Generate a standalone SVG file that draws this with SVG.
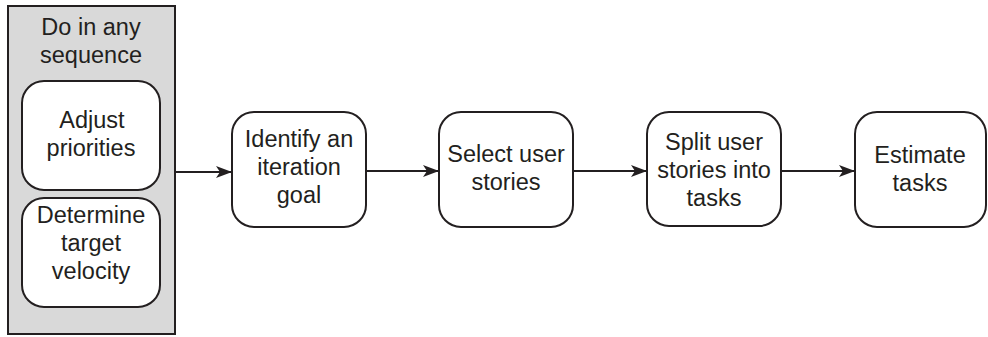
<svg xmlns="http://www.w3.org/2000/svg" width="988" height="337" viewBox="0 0 988 337">
<style>
.box{fill:#fff;stroke:#231f20;stroke-width:2}
.t{font-family:"Liberation Sans",Arial,sans-serif;font-size:23.5px;fill:#231f20;text-anchor:middle}
.c{stroke:#231f20;stroke-width:2;fill:none}
</style>
<defs>
<marker id="ah" markerWidth="16" markerHeight="12" refX="16" refY="6" orient="auto" markerUnits="userSpaceOnUse">
<path d="M0,0 L16,6 L0,12 L4,6 Z" fill="#231f20"/>
</marker>
</defs>
<rect width="988" height="337" fill="#fff"/>
<g id="group">
<rect x="8" y="6" width="167" height="328" fill="#d9d9d9" stroke="#231f20" stroke-width="2"/>
<text class="t" x="91" y="35">Do in any</text>
<text class="t" x="91" y="63">sequence</text>
</g>
<g id="adjust">
<rect class="box" x="22" y="81" width="138" height="109" rx="22"/>
<text class="t" x="92" y="128">Adjust</text>
<text class="t" x="91" y="156">priorities</text>
</g>
<g id="determine">
<rect class="box" x="22" y="198" width="138" height="109" rx="22"/>
<text class="t" x="91" y="223">Determine</text>
<text class="t" x="91" y="251">target</text>
<text class="t" x="91" y="279">velocity</text>
</g>
<g id="identify">
<rect class="box" x="232" y="112" width="134" height="115" rx="22"/>
<text class="t" x="299" y="147">Identify an</text>
<text class="t" x="299" y="175">iteration</text>
<text class="t" x="299" y="203">goal</text>
</g>
<g id="select">
<rect class="box" x="439" y="112" width="134" height="115" rx="22"/>
<text class="t" x="506" y="162">Select user</text>
<text class="t" x="506" y="190">stories</text>
</g>
<g id="split">
<rect class="box" x="647" y="112" width="134" height="114" rx="22"/>
<text class="t" x="714" y="150" fill="#3a3a3a">Split user</text>
<text class="t" x="714" y="178">stories into</text>
<text class="t" x="714" y="206">tasks</text>
</g>
<g id="estimate">
<rect class="box" x="855" y="112" width="131" height="115" rx="22"/>
<text class="t" x="920" y="163">Estimate</text>
<text class="t" x="920" y="191">tasks</text>
</g>
<g id="connectors">
<line class="c" x1="175" y1="172" x2="232" y2="172" marker-end="url(#ah)"/>
<line class="c" x1="366" y1="171" x2="439" y2="171" marker-end="url(#ah)"/>
<line class="c" x1="573" y1="171" x2="647" y2="171" marker-end="url(#ah)"/>
<line class="c" x1="781" y1="171" x2="855" y2="171" marker-end="url(#ah)"/>
</g>
</svg>
